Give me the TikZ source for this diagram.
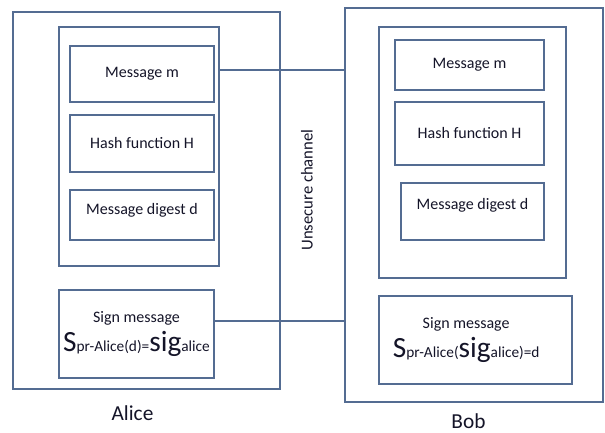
\documentclass[tikz,border=0pt]{standalone}
\usepackage{fontspec}
\setmainfont{Carlito}
\usetikzlibrary{positioning}
\definecolor{boxline}{RGB}{84,108,146}
\definecolor{boxtext}{RGB}{20,20,40}
\newcommand{\sigbig}[1]{{\fontsize{22}{24}\selectfont #1}}
\newcommand{\sigsmall}[1]{{\fontsize{11.5}{13}\selectfont #1}}
\tikzstyle{holder}=[draw=boxline,line width=1pt,inner sep=0pt]
\tikzstyle{block}=[draw=boxline,line width=1pt,inner sep=0pt,text=boxtext,align=center,font=\fontsize{12}{14.5}\selectfont]
\tikzstyle{link}=[draw=boxline,line width=1pt,-]

\begin{document}
\begin{tikzpicture}[x=0.75pt,y=-0.75pt]
        \useasboundingbox (0,0) rectangle (605,432);
        % Alice side
        \node[holder,minimum width=200.25pt,minimum height=282.75pt] (alice) at (146.5,200.5) {};
        \node[holder,minimum width=120pt,minimum height=179.25pt] (ainner) at (139,146.5) {};
        \node[block,minimum width=108pt,minimum height=42pt] (amsg) at (142,74) {Message m};
        \node[block,minimum width=108pt,minimum height=42.75pt] (ahash) at (142,143.5) {Hash function H};
        \node[block,minimum width=108pt,minimum height=37.5pt,text depth=9pt] (adig) at (142,215) {Message digest d};
        \node[block,minimum width=116.25pt,minimum height=66pt] (asign) at (136.5,334)
          {Sign message\\[4pt]\sigbig{S}\sigsmall{pr-Alice(d)=}\sigbig{sig}\sigsmall{alice}};
        \node[text=boxtext,font=\fontsize{16}{18}\selectfont] (alicename) at (132.5,413) {Alice};
        % Bob side
        \node[holder,minimum width=193.5pt,minimum height=295.5pt] (bob) at (474,205) {};
        \node[holder,minimum width=140.25pt,minimum height=188.25pt] (binner) at (472.5,152.5) {};
        \node[block,minimum width=111.75pt,minimum height=37.5pt] (bmsg) at (469.5,65) {Message m};
        \node[block,minimum width=111.75pt,minimum height=47.25pt] (bhash) at (469.5,133.5) {Hash function H};
        \node[block,minimum width=107.25pt,minimum height=42.75pt,text depth=12pt] (bdig) at (472.5,211.5) {Message digest d};
        \node[block,minimum width=144.75pt,minimum height=66pt] (bsign) at (475.5,340)
          {\hspace*{-14pt}Sign message\\[4pt]\hspace*{-14pt}\sigbig{S}\sigsmall{pr-Alice(}\sigbig{sig}\sigsmall{alice)=d}};
        \node[text=boxtext,font=\fontsize{16}{18}\selectfont] (bobname) at (468.5,421) {Bob};
        % channel
        \node[text=boxtext,rotate=90,font=\fontsize{12.5}{14}\selectfont] (channel) at (307,190) {Unsecure channel};
        \draw[link] ([yshift=3pt]amsg.east -| ainner.east) -- ([yshift=3pt]amsg.east -| bob.west);
        \draw[link] ([yshift=9.75pt]asign.east) -- ([yshift=9.75pt]asign.east -| bob.west);
      \end{tikzpicture}
\end{document}
